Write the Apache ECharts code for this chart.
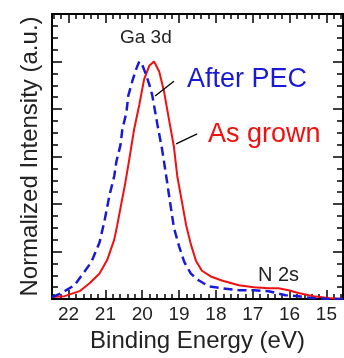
<!DOCTYPE html>
<html>
<head>
<meta charset="utf-8">
<script src="https://cdn.jsdelivr.net/npm/echarts@6/dist/echarts.min.js"></script>
<style>
  html, body { margin: 0; padding: 0; background: #fff; }
  #chart { width: 344px; height: 358px; }
</style>
</head>
<body>
<div id="chart"></div>
<script>
// Ga 3d / N 2s spectra (binding energy in eV, normalized intensity)
const blueEnergy = [22.45, 22.19, 21.84, 21.57, 21.38, 21.16, 21.03, 20.89, 20.76, 20.70, 20.59, 20.54, 20.43, 20.38, 20.27, 20.16, 20.08, 20.00, 19.89, 19.81, 19.73, 19.59, 19.46, 19.35, 19.22, 19.14, 19.00, 18.86, 18.68, 18.46, 18.19, 17.84, 17.38, 16.97, 16.57, 16.11, 15.76, 15.41, 14.95, 14.56]
const blueIntensity = [0.008, 0.025, 0.058, 0.115, 0.156, 0.238, 0.325, 0.436, 0.518, 0.580, 0.649, 0.715, 0.785, 0.855, 0.917, 0.970, 1.0, 0.986, 0.941, 0.904, 0.859, 0.736, 0.629, 0.518, 0.382, 0.300, 0.222, 0.156, 0.107, 0.078, 0.053, 0.045, 0.037, 0.037, 0.033, 0.016, 0.012, 0.004, 0.0, 0.0]

const redEnergy = [22.45, 22.11, 21.70, 21.43, 21.16, 20.95, 20.76, 20.68, 20.57, 20.46, 20.35, 20.22, 20.08, 19.95, 19.81, 19.68, 19.54, 19.41, 19.27, 19.14, 19.05, 18.92, 18.81, 18.68, 18.54, 18.38, 18.14, 17.84, 17.38, 16.97, 16.57, 16.30, 16.03, 15.76, 15.35, 14.95, 14.56]
const redIntensity = [0.008, 0.012, 0.033, 0.066, 0.107, 0.165, 0.250, 0.310, 0.400, 0.489, 0.590, 0.715, 0.818, 0.925, 0.982, 1.0, 0.958, 0.875, 0.752, 0.641, 0.518, 0.407, 0.312, 0.230, 0.160, 0.119, 0.095, 0.078, 0.058, 0.049, 0.045, 0.045, 0.037, 0.025, 0.012, 0.004, 0.0]

// leader lines from the labels to the curves
const afterLeader = [[19.14, 0.917], [19.65, 0.855]]
const grownLeader = [[18.51, 0.695], [19.08, 0.653]]

const xMin = 14.55
const xMax = 22.45
const FONT = "Liberation Sans, Arial, sans-serif"

function pairs(xs, ys) {
  return xs.map((x, i) => [x, ys[i]])
}

const tickLine = { color: "#000", width: 1.5 }

function xAxisDef(pos, major, withLabels) {
  return {
    type: "value",
    position: pos,
    min: xMin,
    max: xMax,
    inverse: true,
    splitNumber: major ? 8 : 40,
    minInterval: major ? 1 : 0.2,
    maxInterval: major ? 1 : 0.2,
    splitLine: { show: false },
    axisLine: { onZero: false, lineStyle: { color: "#000", width: 2 } },
    axisTick: { inside: true, length: major ? 9 : 5, lineStyle: tickLine },
    axisLabel: withLabels
      ? { show: true, interval: 0, showMinLabel: false, showMaxLabel: false, fontSize: 19, color: "#222", fontFamily: FONT, margin: 6 }
      : { show: false },
    name: withLabels ? "Binding Energy (eV)" : "",
    nameLocation: "middle",
    nameGap: 30,
    nameTextStyle: { fontSize: 24, color: "#222", fontFamily: FONT }
  }
}

function yAxisDef(pos, withName) {
  return {
    type: "value",
    position: pos,
    min: 0,
    max: 1.2,
    interval: 0.2,
    splitLine: { show: false },
    axisLine: { onZero: false, lineStyle: { color: "#000", width: 2 } },
    axisTick: { inside: true, length: 10, lineStyle: tickLine },
    minorTick: { show: true, splitNumber: 4, length: 6, lineStyle: tickLine },
    axisLabel: { show: false },
    name: withName ? "Normalized Intensity (a.u.)" : "",
    nameLocation: "middle",
    nameGap: 10,
    nameTextStyle: { fontSize: 24, color: "#222", fontFamily: FONT }
  }
}

const leaderStyle = { color: "#000", width: 1.3, type: "solid" }

const option = {
  animation: false,
  backgroundColor: "#fff",
  textStyle: { fontFamily: FONT },
  grid: { left: 52, right: 1, top: 14, bottom: 52 },
  xAxis: [
    xAxisDef("bottom", true, true),
    xAxisDef("bottom", false, false),
    xAxisDef("top", true, false),
    xAxisDef("top", false, false)
  ],
  yAxis: [yAxisDef("left", true), yAxisDef("right", false)],
  graphic: [
    { type: "text", left: 120, top: 28, style: { text: "Ga 3d", font: "19px " + FONT, fill: "#222" } },
    { type: "text", left: 187, top: 66, style: { text: "After PEC", font: "27px " + FONT, fill: "#1a1ad6" } },
    { type: "text", left: 208, top: 121, style: { text: "As grown", font: "27px " + FONT, fill: "#f01010" } },
    { type: "text", left: 258, top: 265, style: { text: "N 2s", font: "20px " + FONT, fill: "#222" } }
  ],
  series: [
    {
      name: "As grown",
      type: "line",
      xAxisIndex: 0,
      yAxisIndex: 0,
      showSymbol: false,
      data: pairs(redEnergy, redIntensity),
      lineStyle: { color: "#f01010", width: 2 },
      markLine: {
        silent: true,
        symbol: "none",
        label: { show: false },
        lineStyle: leaderStyle,
        data: [
          [{ coord: afterLeader[0] }, { coord: afterLeader[1] }],
          [{ coord: grownLeader[0] }, { coord: grownLeader[1] }]
        ]
      }
    },
    {
      name: "After PEC",
      type: "line",
      xAxisIndex: 0,
      yAxisIndex: 0,
      showSymbol: false,
      data: pairs(blueEnergy, blueIntensity),
      lineStyle: { color: "#1a1ad6", width: 2.5, type: [9, 5] }
    }
  ]
}

const chart = echarts.init(document.getElementById("chart"))
chart.setOption(option)
</script>
</body>
</html>
